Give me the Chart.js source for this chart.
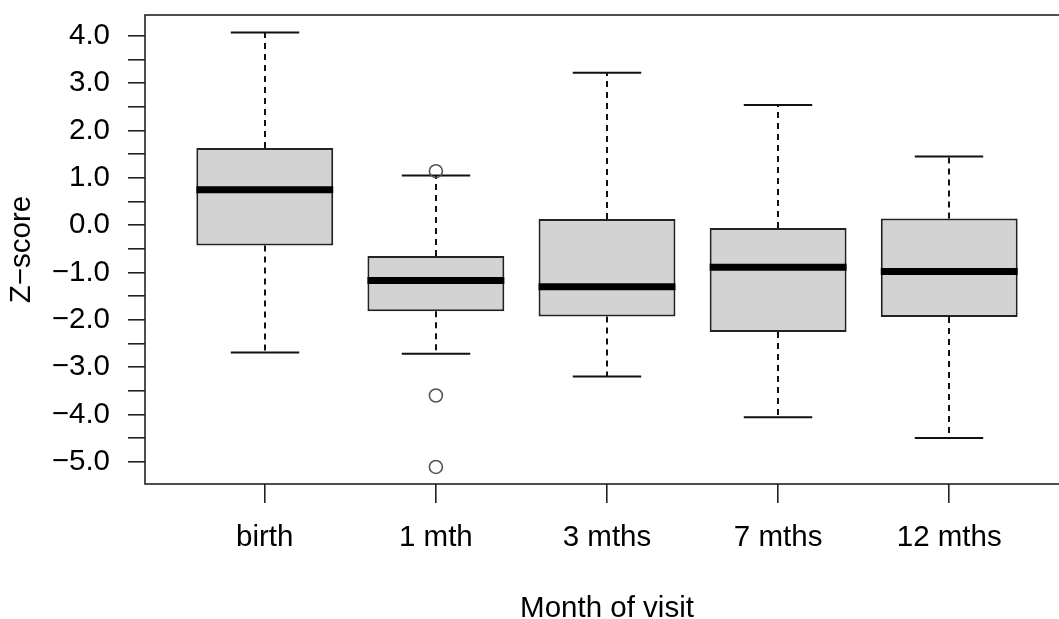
<!DOCTYPE html>
<html>
<head>
<meta charset="utf-8">
<script src="https://cdn.jsdelivr.net/npm/chart.js@4"></script>
<style>
    html, body { margin: 0; padding: 0; background: #fff; }
    #wrap { width: 1059px; height: 619px; overflow: hidden; position: relative; }
    #chart-zscore { position: absolute; left: 0; top: 0; }
</style>
</head>
<body>
<div id="wrap"><canvas id="chart-zscore" width="1100" height="619"></canvas></div>
<script>
const categories = ["birth", "1 mth", "3 mths", "7 mths", "12 mths"]
const positions = [1, 2, 3, 4, 5]
const lowerWhisker = [-2.69, -2.72, -3.20, -4.06, -4.50]
const lowerQuartile = [-0.43, -1.82, -1.93, -2.26, -1.94]
const medians = [0.75, -1.17, -1.30, -0.89, -0.98]
const upperQuartile = [1.63, -0.65, 0.13, -0.06, 0.14]
const upperWhisker = [4.07, 1.05, 3.22, 2.54, 1.45]
const outlierPosition = [2, 2, 2]
const outlierValue = [1.14, -3.60, -5.11]
const yTicks = [-5, -4.5, -4, -3.5, -3, -2.5, -2, -1.5, -1, -0.5, 0, 0.5, 1, 1.5, 2, 2.5, 3, 3.5, 4]

Chart.defaults.font.family = "'Liberation Sans', Arial, sans-serif"
Chart.defaults.font.size = 29.5
Chart.defaults.color = "#000"

const boxParts = {
    id: "boxParts",
    beforeDatasetsDraw(chart) {
        const ctx = chart.ctx
        const y = chart.scales.y
        const bars = chart.getDatasetMeta(0).data
        ctx.save()
        ctx.strokeStyle = "#111"
        ctx.lineWidth = 2
        bars.forEach((bar, i) => {
            const cx = Math.round(bar.x)
            const half = bar.width / 4
            ctx.setLineDash([6, 5])
            ctx.beginPath()
            ctx.moveTo(cx, y.getPixelForValue(upperQuartile[i]))
            ctx.lineTo(cx, y.getPixelForValue(upperWhisker[i]))
            ctx.moveTo(cx, y.getPixelForValue(lowerQuartile[i]))
            ctx.lineTo(cx, y.getPixelForValue(lowerWhisker[i]))
            ctx.stroke()
            ctx.setLineDash([])
            ctx.beginPath()
            ctx.moveTo(cx - half, y.getPixelForValue(upperWhisker[i]))
            ctx.lineTo(cx + half, y.getPixelForValue(upperWhisker[i]))
            ctx.moveTo(cx - half, y.getPixelForValue(lowerWhisker[i]))
            ctx.lineTo(cx + half, y.getPixelForValue(lowerWhisker[i]))
            ctx.stroke()
        })
        ctx.restore()
    },
    afterDatasetsDraw(chart) {
        const ctx = chart.ctx
        const y = chart.scales.y
        const area = chart.chartArea
        const bars = chart.getDatasetMeta(0).data
        ctx.save()
        ctx.strokeStyle = "#000"
        ctx.lineWidth = 7
        bars.forEach((bar, i) => {
            const py = y.getPixelForValue(medians[i])
            ctx.beginPath()
            ctx.moveTo(bar.x - bar.width / 2, py)
            ctx.lineTo(bar.x + bar.width / 2, py)
            ctx.stroke()
        })
        // frame around the plot
        ctx.strokeStyle = "#222"
        ctx.lineWidth = 1.6
        ctx.strokeRect(area.left, area.top, area.right - area.left, area.bottom - area.top)
        ctx.restore()
    }
}

new Chart(document.getElementById("chart-zscore"), {
    type: "bar",
    data: {
        datasets: [{
            type: "bar",
            label: "Z-score",
            data: positions.map((x, i) => ({ x: x, y: [lowerQuartile[i], upperQuartile[i]] })),
            backgroundColor: "#d3d3d3",
            borderColor: "#222",
            borderWidth: 2,
            borderSkipped: false,
            barPercentage: 0.8,
            categoryPercentage: 1,
            order: 2
        }, {
            type: "scatter",
            label: "Outliers",
            data: outlierPosition.map((x, i) => ({ x: x, y: outlierValue[i] })),
            pointStyle: "circle",
            pointRadius: 6.5,
            pointBorderWidth: 1.6,
            pointBorderColor: "#555",
            pointBackgroundColor: "rgba(0,0,0,0)",
            order: 1
        }]
    },
    options: {
        responsive: false,
        animation: false,
        layout: { padding: { top: 15, right: 31, bottom: 0, left: 0 } },
        plugins: {
            legend: { display: false },
            tooltip: { enabled: false }
        },
        scales: {
            x: {
                type: "linear",
                min: 0.3,
                max: 5.7,
                offset: false,
                afterBuildTicks: (scale) => { scale.ticks = positions.map((v) => ({ value: v })) },
                afterFit: (scale) => {
                    scale.height = 135
                    scale.paddingLeft = 0
                    scale.paddingRight = 0
                },
                ticks: {
                    autoSkip: false,
                    maxRotation: 0,
                    padding: 17,
                    callback: (value) => categories[positions.indexOf(value)]
                },
                grid: { offset: false, drawOnChartArea: false, tickLength: 19, color: "#222", lineWidth: 1.6 },
                border: { display: false },
                title: { display: true, text: "Month of visit", padding: { top: 0, bottom: -8 } }
            },
            y: {
                min: -5.47,
                max: 4.44,
                afterBuildTicks: (scale) => { scale.ticks = yTicks.map((v) => ({ value: v })) },
                afterFit: (scale) => {
                    scale.width = 145
                    scale.paddingTop = 0
                    scale.paddingBottom = 0
                },
                ticks: {
                    autoSkip: false,
                    padding: 18,
                    callback: (value) => Number.isInteger(value) ? value.toFixed(1).replace("-", "\u2212") : ""
                },
                grid: { drawOnChartArea: false, tickLength: 17, color: "#222", lineWidth: 1.6 },
                border: { display: false },
                title: { display: true, text: "Z\u2212score", padding: { top: 4, bottom: 0 } }
            }
        }
    },
    plugins: [boxParts]
})
</script>
</body>
</html>
